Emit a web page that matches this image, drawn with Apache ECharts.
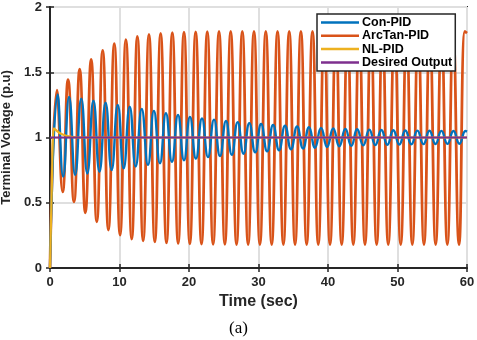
<!DOCTYPE html>
<html>
<head>
<meta charset="utf-8">
<script src="https://cdn.jsdelivr.net/npm/echarts@6/dist/echarts.min.js"></script>
<style>
  html, body { margin: 0; padding: 0; background: #fff; }
  #chart { width: 477px; height: 340px; }
</style>
</head>
<body>
<div id="chart"></div>
<script>
// tick labels
var xTicks = [0, 10, 20, 30, 40, 50, 60];
var yTicks = [0, 0.5, 1, 1.5, 2];

// Con-PID : peaks / troughs (time, p.u)
var conPeakT = [1.1, 2.75, 4.5, 6.25, 8.0, 9.75, 11.47, 13.2, 14.95, 16.68, 18.42, 20.14, 21.87, 23.6, 25.32, 27.0, 28.68, 30.38, 32.1, 33.82, 35.55, 37.27, 39.0, 40.75, 42.5, 44.2, 45.95, 47.68, 49.4, 51.13, 52.86, 54.6, 56.32, 58.05, 59.78];
var conPeakV = [1.33, 1.31, 1.298, 1.282, 1.266, 1.25, 1.236, 1.218, 1.204, 1.186, 1.172, 1.158, 1.146, 1.137, 1.127, 1.118, 1.11, 1.103, 1.096, 1.09, 1.084, 1.079, 1.074, 1.07, 1.066, 1.063, 1.06, 1.058, 1.056, 1.054, 1.053, 1.052, 1.051, 1.05, 1.05];
var conTroughT = [1.9, 3.62, 5.37, 7.12, 8.87, 10.6, 12.33, 14.1, 15.82, 17.55, 19.28, 21.0, 22.73, 24.46, 26.16, 27.84, 29.53, 31.24, 32.96, 34.68, 36.41, 38.13, 39.87, 41.62, 43.35, 45.07, 46.81, 48.54, 50.26, 51.99, 53.73, 55.46, 57.18, 58.91];
var conTroughV = [0.7, 0.712, 0.724, 0.738, 0.75, 0.764, 0.778, 0.79, 0.802, 0.814, 0.826, 0.838, 0.85, 0.858, 0.868, 0.876, 0.886, 0.894, 0.902, 0.91, 0.916, 0.922, 0.928, 0.932, 0.936, 0.94, 0.942, 0.944, 0.946, 0.948, 0.949, 0.95, 0.951, 0.952];
var conEnds = [[0, 0], [60, 1.045]];

// ArcTan-PID
var arcPeakT = [1.0, 2.6, 4.27, 5.92, 7.58, 9.25, 10.92, 12.57, 14.24, 15.92, 17.6, 19.28, 20.96, 22.63, 24.32, 26.0, 27.67, 29.35, 31.05, 32.74, 34.42, 36.1, 37.77, 39.45, 41.13, 42.81, 44.49, 46.17, 47.84, 49.57, 51.3, 52.97, 54.65, 56.33, 58.01, 59.69];
var arcPeakV = [1.362, 1.444, 1.523, 1.599, 1.668, 1.719, 1.75, 1.775, 1.79, 1.798, 1.804, 1.808, 1.81, 1.812, 1.813, 1.813, 1.813, 1.813, 1.813, 1.813, 1.813, 1.813, 1.813, 1.813, 1.813, 1.813, 1.813, 1.813, 1.813, 1.813, 1.813, 1.813, 1.813, 1.813, 1.813, 1.813];
var arcTroughT = [1.82, 3.45, 5.08, 6.73, 8.4, 10.08, 11.76, 13.4, 15.08, 16.76, 18.44, 20.12, 21.8, 23.47, 25.16, 26.84, 28.51, 30.2, 31.9, 33.58, 35.26, 36.93, 38.6, 40.29, 41.97, 43.64, 45.32, 47.0, 48.67, 50.46, 52.13, 53.81, 55.49, 57.17, 58.85];
var arcTroughV = [0.584, 0.507, 0.423, 0.354, 0.291, 0.252, 0.222, 0.209, 0.2, 0.192, 0.188, 0.185, 0.183, 0.182, 0.181, 0.18, 0.18, 0.18, 0.18, 0.18, 0.18, 0.18, 0.18, 0.18, 0.18, 0.18, 0.18, 0.18, 0.18, 0.18, 0.18, 0.18, 0.18, 0.18, 0.18];
var arcEnds = [[0, 0], [60, 1.8]];

// NL-PID
var nlT = [0, 0.25, 0.55, 0.9, 1.5, 2.5, 4.0, 60];
var nlV = [0, 0.6, 1.07, 1.055, 1.03, 1.01, 1.0, 1.0];

// Desired Output
var refT = [0, 60];
var refV = [1, 1];

function merge(pt, pv, tt, tv, ends) {
    var pts = ends.slice();
    pt.forEach(function (t, i) { pts.push([t, pv[i]]); });
    tt.forEach(function (t, i) { pts.push([t, tv[i]]); });
    pts.sort(function (a, b) { return a[0] - b[0]; });
    return pts;
}
function pairs(t, v) {
    return t.map(function (x, i) { return [x, v[i]]; });
}

var chart = echarts.init(document.getElementById('chart'));
var FONT = '"Liberation Sans", Arial, sans-serif';
var AX = '#262626';

var option = {
    animation: false,
    backgroundColor: '#fff',
    grid: { left: 50, right: 10, top: 7, bottom: 72, show: true, borderColor: AX, borderWidth: 2,
            containLabel: false, outerBoundsMode: 'none' },
    legend: {
        orient: 'vertical',
        left: 317, top: 14,
        padding: [2, 3, 2, 4],
        itemGap: 0.3,
        itemWidth: 38, itemHeight: 2.5,
        icon: 'rect',
        backgroundColor: '#fff',
        borderColor: AX, borderWidth: 1.5, borderRadius: 0,
        textStyle: { fontFamily: FONT, fontWeight: 'bold', fontSize: 12.5, color: '#000', lineHeight: 13, padding: [0, 0, 0, -2] },
        data: ['Con-PID', 'ArcTan-PID', 'NL-PID', 'Desired Output']
    },
    xAxis: [{
        type: 'value', min: xTicks[0], max: xTicks[xTicks.length - 1], interval: 10,
        name: 'Time (sec)', nameLocation: 'middle', nameGap: 20,
        nameTextStyle: { fontFamily: FONT, fontWeight: 'bold', fontSize: 16, color: AX },
        axisLine: { lineStyle: { color: AX, width: 2 } },
        axisTick: { inside: true, length: 4, lineStyle: { color: AX, width: 1.5 } },
        axisLabel: { fontFamily: FONT, fontWeight: 'bold', fontSize: 13, color: AX, margin: 8 },
        splitLine: { show: true, lineStyle: { color: '#dfdfdf', width: 2 } }
    }, {
        type: 'value', position: 'top', min: 0, max: 60, interval: 10,
        axisLine: { show: false },
        axisTick: { inside: true, length: 4, lineStyle: { color: AX, width: 1.5 } },
        axisLabel: { show: false }, splitLine: { show: false }
    }],
    yAxis: [{
        type: 'value', min: yTicks[0], max: yTicks[yTicks.length - 1], interval: 0.5,
        name: 'Terminal Voltage (p.u)', nameLocation: 'middle', nameGap: 31,
        nameTextStyle: { fontFamily: FONT, fontWeight: 'bold', fontSize: 13, color: AX },
        axisLine: { lineStyle: { color: AX, width: 2 } },
        axisTick: { inside: true, length: 4, lineStyle: { color: AX, width: 1.5 } },
        axisLabel: { fontFamily: FONT, fontWeight: 'bold', fontSize: 13, color: AX, margin: 8 },
        splitLine: { show: true, lineStyle: { color: '#dfdfdf', width: 2 } }
    }, {
        type: 'value', position: 'right', min: 0, max: 2, interval: 0.5,
        axisLine: { show: false },
        axisTick: { show: true, inside: true, length: 4, lineStyle: { color: AX, width: 1.5 } },
        axisLabel: { show: false }, splitLine: { show: false }
    }],
    series: [{
        name: 'ArcTan-PID', type: 'line', showSymbol: false, smooth: true, z: 2,
        data: merge(arcPeakT, arcPeakV, arcTroughT, arcTroughV, arcEnds),
        lineStyle: { color: '#D95319', width: 2.8 }, itemStyle: { color: '#D95319' }
    }, {
        name: 'Con-PID', type: 'line', showSymbol: false, smooth: true, z: 3,
        data: merge(conPeakT, conPeakV, conTroughT, conTroughV, conEnds),
        lineStyle: { color: '#0072BD', width: 2.4 }, itemStyle: { color: '#0072BD' }
    }, {
        name: 'NL-PID', type: 'line', showSymbol: false, smooth: 0.3, z: 4,
        data: pairs(nlT, nlV),
        lineStyle: { color: '#EDB120', width: 2.2 }, itemStyle: { color: '#EDB120' }
    }, {
        name: 'Desired Output', type: 'line', showSymbol: false, z: 5,
        data: pairs(refT, refV),
        lineStyle: { color: '#7E2F8E', width: 2.2 }, itemStyle: { color: '#7E2F8E' }
    }],
    graphic: [{
        type: 'text', left: 229, top: 320,
        style: { text: '(a)', font: '17px "Liberation Serif", "Times New Roman", serif', fill: '#000' }
    }]
};
chart.setOption(option);
</script>
</body>
</html>
